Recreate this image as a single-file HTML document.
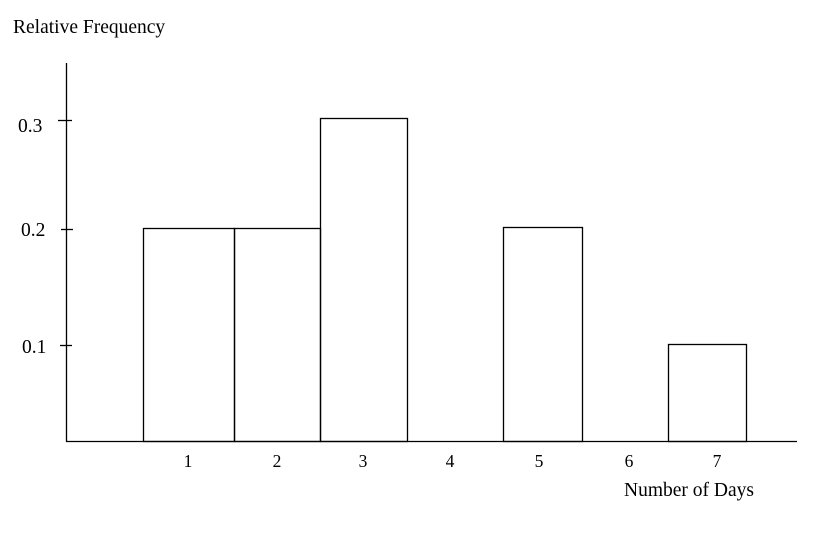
<!DOCTYPE html><html><head><style>body{margin:0;background:#fff}</style></head><body>
<svg width="818" height="537" xmlns="http://www.w3.org/2000/svg" font-family="Liberation Serif, serif" font-size="19.5" fill="#000">
<rect width="818" height="537" fill="#fff"/>
<g stroke="#000" stroke-width="1.3" fill="none">
<line x1="66.5" y1="63" x2="66.5" y2="441.5"/>
<line x1="66" y1="441.5" x2="797" y2="441.5"/>
<line x1="58" y1="120.5" x2="72" y2="120.5"/>
<line x1="61" y1="229.5" x2="73" y2="229.5"/>
<line x1="60" y1="345.5" x2="72" y2="345.5"/>
<rect x="143.5" y="228.5" width="91" height="213"/>
<rect x="234.5" y="228.5" width="86" height="213"/>
<rect x="320.5" y="118.5" width="87" height="323"/>
<rect x="503.5" y="227.5" width="79" height="214"/>
<rect x="668.5" y="344.5" width="78" height="97"/>
</g>
<text x="13" y="33">Relative Frequency</text>
<text x="18" y="132">0.3</text>
<text x="21" y="236">0.2</text>
<text x="22" y="353">0.1</text>
<g text-anchor="middle" font-size="17.5">
<text x="188" y="467">1</text><text x="277" y="467">2</text><text x="363" y="467">3</text>
<text x="450" y="467">4</text><text x="539" y="467">5</text><text x="629" y="467">6</text><text x="717" y="467">7</text>
</g>
<text x="624" y="496">Number of Days</text>
</svg></body></html>
